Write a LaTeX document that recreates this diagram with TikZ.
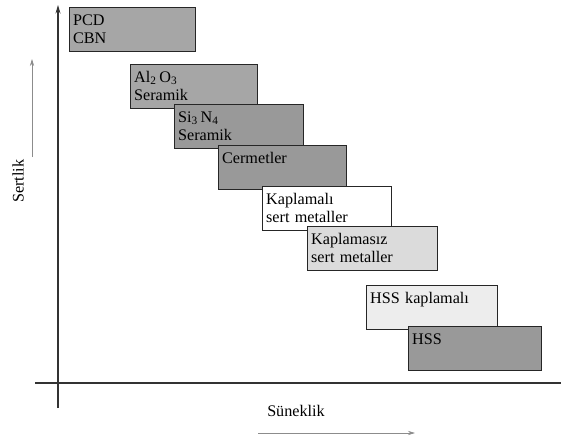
\documentclass[tikz,border=0pt]{standalone}
\usepackage{fontspec}
\setmainfont{Liberation Serif}
\usetikzlibrary{arrows.meta}

\definecolor{griKoyu}{gray}{0.60}
\definecolor{griOrta}{gray}{0.65}
\definecolor{griAcik}{gray}{0.86}
\definecolor{griSoluk}{gray}{0.93}

\tikzset{
kutu/.style={draw=black!85,line width=0.9pt,anchor=north west,
  align=left,text width=#1,inner xsep=2.5pt,inner ysep=4.5pt,
  text height=8pt,text depth=14.3pt,
  font=\fontsize{11.5}{13}\selectfont},
kutu/.default=85pt,
eksen/.style={draw=black!80,line width=0.8pt},
yon/.style={draw=black!45,line width=0.5pt,-{Stealth[length=5pt,width=3pt]}},
etiket/.style={font=\fontsize{11.5}{13}\selectfont}
}

\begin{document}
\begin{tikzpicture}[x=0.025cm,y=-0.025cm]

\useasboundingbox (0,0) rectangle (561,443);

% eksenler
\coordinate (Yalt) at (58,408);
\coordinate (Yust) at (58,5);
\coordinate (Xsol) at (35,383);
\coordinate (Xsag) at (561,383);

\draw[eksen,-{Stealth[length=6pt,width=3.5pt]}]
(Yalt)
--
(Yust);

\draw[eksen]
(Xsol)
--
(Xsag);

% kutular
\node[kutu=84.6pt,fill=griOrta]
(PCD)
at (69,7)
{PCD\\CBN};

\node[kutu=85.3pt,fill=griOrta]
(AlO)
at (130,64)
{Al\textsubscript{2}\,O\textsubscript{3}\\Seramik};

\node[kutu=86.7pt,fill=griKoyu]
(SiN)
at (174,104)
{Si\textsubscript{3}\,N\textsubscript{4}\\Seramik};

\node[kutu=86pt,fill=griKoyu]
(Cer)
at (218,145)
{Cermetler};

\node[kutu=86.7pt,fill=white]
(Kap)
at (262,186)
{Kaplamalı\\sert metaller};

\node[kutu=87.4pt,fill=griAcik]
(Kaps)
at (307,226)
{Kaplamasız\\sert metaller};

\node[kutu=88.2pt,fill=griSoluk]
(HSSk)
at (366,285)
{HSS kaplamalı};

\node[kutu=89.6pt,fill=griKoyu]
(HSS)
at (408,326)
{HSS};

% yon oklari
\coordinate (Salt) at (32,157);
\coordinate (Sust) at (32,59);
\coordinate (Dsol) at (258,433);
\coordinate (Dsag) at (415,433);

\draw[yon]
(Salt)
--
(Sust);

\draw[yon]
(Dsol)
--
(Dsag);

\node[etiket,rotate=90]
(Sert)
at (18,181)
{Sertlik};

\node[etiket]
(Sun)
at (296,411)
{Süneklik};

\end{tikzpicture}
\end{document}
